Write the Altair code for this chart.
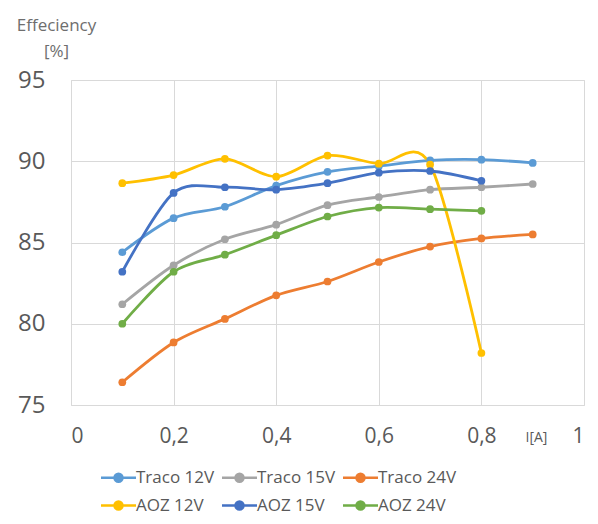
import altair as alt
import pandas as pd

x_vals = [0.1, 0.2, 0.3, 0.4, 0.5, 0.6, 0.7, 0.8, 0.9]

traco_12 = [84.4, 86.5, 87.2, 88.5, 89.35, 89.7, 90.05, 90.1, 89.9]
traco_15 = [81.2, 83.6, 85.2, 86.1, 87.3, 87.8, 88.25, 88.4, 88.6]
traco_24 = [76.4, 78.85, 80.3, 81.75, 82.6, 83.8, 84.75, 85.25, 85.5]
aoz_12 = [88.65, 89.15, 90.15, 89.05, 90.35, 89.85, 89.8, 78.2]
aoz_15 = [83.2, 88.05, 88.4, 88.25, 88.65, 89.3, 89.4, 88.8]
aoz_24 = [80.0, 83.2, 84.25, 85.45, 86.6, 87.15, 87.05, 86.95]

series_names = ["Traco 12V", "Traco 15V", "Traco 24V", "AOZ 12V", "AOZ 15V", "AOZ 24V"]
series_vals = [traco_12, traco_15, traco_24, aoz_12, aoz_15, aoz_24]
series_colors = ["#5B9BD5", "#A5A5A5", "#ED7D31", "#FFC000", "#4472C4", "#70AD47"]

x_ticks = [0, 0.2, 0.4, 0.6, 0.8, 1]
y_ticks = [75, 80, 85, 90, 95]

rows = []
for order, (name, vals) in enumerate(zip(series_names, series_vals)):
    for xv, yv in zip(x_vals, vals):
        rows.append({"series": name, "I": xv, "eff": yv, "order": order})
df = pd.DataFrame(rows)

FONT = "Open Sans"
TXT = "#595959"

legend_path = ("M-3.5,0H3.5M0.8,0A0.8,0.8,0,1,1,-0.8,0A0.8,0.8,0,1,1,0.8,0Z")

color = alt.Color(
    "series:N",
    scale=alt.Scale(domain=series_names, range=series_colors),
    sort=series_names,
    legend=alt.Legend(
        title=None,
        orient="none",
        direction="horizontal",
        legendX=39,
        legendY=389,
        columns=3,
        columnPadding=2,
        rowPadding=9,
        symbolType=legend_path,
        symbolSize=100,
        symbolStrokeWidth=2.5,
        labelOffset=9,
        labelFont=FONT,
        labelFontSize=17,
        labelColor=TXT,
        padding=0,
    ),
)

xenc = alt.X(
    "I:Q",
    scale=alt.Scale(domain=[0, 1], nice=False),
    axis=alt.Axis(
        values=x_ticks,
        labelExpr="replace(format(datum.value, '~g'), '.', ',')",
        title="I[A]",
        titleX=465,
        titleY=32,
        titleBaseline="middle",
        titleAlign="center",
        titleFont=FONT,
        titleFontSize=14,
        titleFontWeight="normal",
        titleColor=TXT,
        labelFont=FONT,
        labelFontSize=21,
        labelColor=TXT,
        labelPadding=20,
        domain=False,
        ticks=False,
        grid=True,
        gridColor="#D9D9D9",
        gridWidth=1,
    ),
)

yenc = alt.Y(
    "eff:Q",
    scale=alt.Scale(domain=[75, 95], nice=False, zero=False),
    axis=alt.Axis(
        values=y_ticks,
        title=["Effeciency", "[%]"],
        titleAngle=0,
        titleX=-15,
        titleY=-50,
        titleAlign="center",
        titleBaseline="alphabetic",
        titleLineHeight=26,
        titleFont=FONT,
        titleFontSize=17,
        titleFontWeight="normal",
        titleColor="#6E6E6E",
        labelFont=FONT,
        labelFontSize=24,
        labelColor=TXT,
        labelPadding=26,
        domain=False,
        ticks=False,
        grid=True,
        gridColor="#D9D9D9",
        gridWidth=1,
    ),
)

base = alt.Chart(df).encode(x=xenc, y=yenc, color=color, order=alt.Order("I:Q"))

lines = base.mark_line(interpolate="cardinal", tension=0.1, strokeWidth=2.8)
points = base.mark_point(filled=True, size=60, opacity=1)

chart = alt.layer(lines, points).properties(
    width=513,
    height=325,
    autosize="none",
    padding={"left": 63, "top": 72, "right": 6, "bottom": 111},
).configure_view(stroke=None).configure(background="white")

chart.save("out.html", embed_options={"renderer": "svg", "actions": False})
